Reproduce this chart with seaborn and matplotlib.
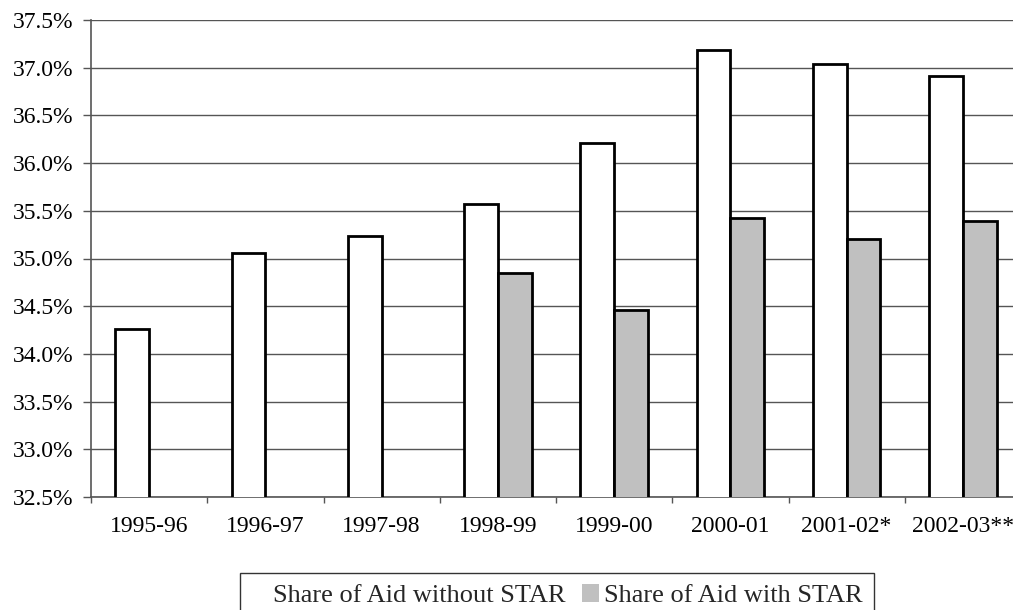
import matplotlib
matplotlib.use("Agg")
import matplotlib.pyplot as plt
from matplotlib.patches import Patch
from matplotlib.ticker import FuncFormatter, FixedLocator
import numpy as np
import pandas as pd
import seaborn as sns

years = ["1995-96", "1996-97", "1997-98", "1998-99", "1999-00",
         "2000-01", "2001-02*", "2002-03**"]
aid_without_star = [34.26, 35.06, 35.24, 35.57, 36.21, 37.19, 37.04, 36.91]
aid_with_star = [np.nan, np.nan, np.nan, 34.85, 34.46, 35.42, 35.20, 35.39]
series_names = ["Share of Aid without STAR", "Share of Aid with STAR"]
series_colors = ["#ffffff", "#c0c0c0"]

df = pd.DataFrame({
    "year": years * 2,
    "share": aid_without_star + aid_with_star,
    "series": [series_names[0]] * len(years) + [series_names[1]] * len(years),
})

sns.set_theme(style="white")
plt.rcParams["font.family"] = ["Liberation Serif", "DejaVu Serif"]

fig = plt.figure(figsize=(10.13, 6.10), dpi=100)
ax = fig.add_axes([91 / 1013, 1 - 497 / 610, (1021 - 91) / 1013, (497 - 20) / 610])

sns.barplot(data=df, x="year", y="share", hue="series", order=years,
            hue_order=series_names, palette=series_colors, width=0.58,
            dodge=True, edgecolor="black", linewidth=2.0, ax=ax,
            legend=False, zorder=3)

ax.set_ylim(32.5, 37.5)
ax.set_xlim(-0.5, len(years) - 0.5)
ax.set_yticks(np.arange(32.5, 37.51, 0.5))
ax.yaxis.set_major_formatter(FuncFormatter(lambda v, p: f"{v:.1f}%"))
ax.yaxis.grid(True, color="#555555", linewidth=1.0, zorder=0)
ax.set_axisbelow(True)
ax.set_xlabel("")
ax.set_ylabel("")

for side in ["top", "right"]:
    ax.spines[side].set_visible(False)
for side in ["left", "bottom"]:
    ax.spines[side].set_color("#555555")
    ax.spines[side].set_linewidth(1.2)

ax.tick_params(axis="y", which="major", direction="out", length=5.8, width=1,
               color="#555555", left=True, labelsize=17, pad=7,
               labelcolor="black")
ax.tick_params(axis="x", which="major", length=0, labelsize=17, pad=14,
               labelcolor="black")
ax.xaxis.set_minor_locator(FixedLocator(np.arange(-0.5, len(years), 1.0)))
ax.tick_params(axis="x", which="minor", direction="out", length=4, width=1,
               color="#555555", bottom=True)

handles = [Patch(facecolor=series_colors[0], edgecolor="none"),
           Patch(facecolor=series_colors[1], edgecolor="none")]
leg = fig.legend(handles, series_names, loc="upper center",
                 bbox_to_anchor=(557 / 1013, 1 - 573 / 610), ncol=2,
                 frameon=True, fancybox=False, fontsize=19,
                 handlelength=0.64, handleheight=0.64, handletextpad=0.19,
                 columnspacing=0.64, borderpad=0.42, borderaxespad=0)
leg.get_frame().set_edgecolor("black")
leg.get_frame().set_linewidth(1.0)

fig.savefig("out.png", dpi=100)
